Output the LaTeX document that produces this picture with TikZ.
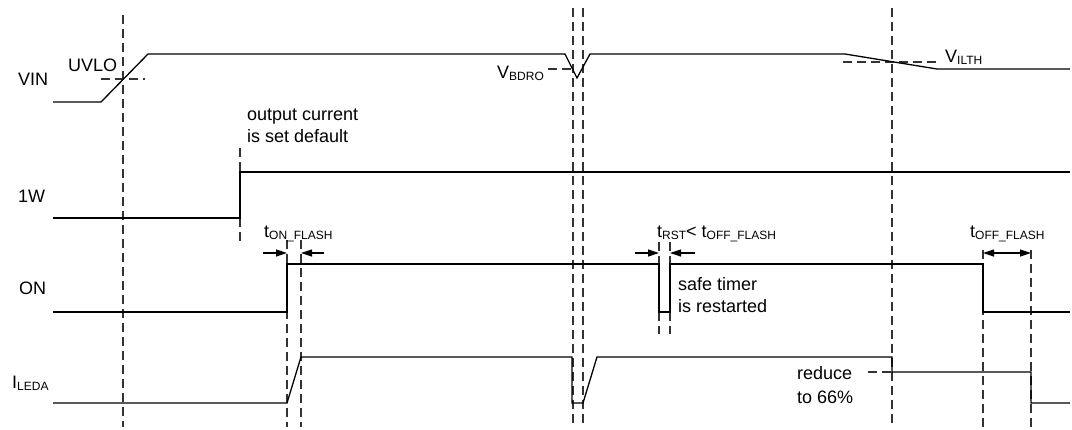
\documentclass[tikz,border=0pt]{standalone}
\usepackage{fontspec}
\setmainfont{Liberation Sans}
\usetikzlibrary{arrows.meta}
\newcommand\sbs[1]{\raisebox{-2.5pt}{\fontsize{12}{12}\selectfont #1}}
\begin{document}
\begin{tikzpicture}[x=1pt,y=-1pt,
  sig/.style={line width=1.3pt, line join=miter},
  guide/.style={line width=1.2pt, dash pattern=on 9pt off 5pt, black!80},
  lbl/.style={font=\fontsize{18}{21}\selectfont, inner sep=0pt, anchor=base west},
  dimarrow/.style={line width=1.2pt, -{Triangle[length=11pt,width=7pt]}},
  dimboth/.style={line width=1.2pt, {Triangle[length=11pt,width=7pt]}-{Triangle[length=11pt,width=7pt]}},
]
\useasboundingbox (0,0) rectangle (1072,429);

% signal names
\node[lbl] (vin) at (18,85) {VIN};
\node[lbl] (w1) at (18,202) {1W};
\node[lbl] (on) at (19,294) {ON};
\node[lbl] (iled) at (12,388) {I\sbs{LEDA}};

% vertical guides
\draw[guide] (123,15) -- (123,427);
\draw[guide] (573,8) -- (573,427);
\draw[guide] (583,8) -- (583,427);
\draw[guide] (892,8) -- (892,427);
\draw[guide] (287,240) -- (287,427);
\draw[guide] (301,240) -- (301,427);
\draw[guide] (983,250) -- (983,427);
\draw[guide] (1031,250) -- (1031,427);
\draw[guide] (659,242) -- (659,264);
\draw[guide] (670,242) -- (670,264);
\draw[guide] (659,312) -- (659,334);
\draw[guide] (670,312) -- (670,334);
\draw[guide] (240,148) -- (240,172);
\draw[guide] (240,218) -- (240,243);

% horizontal threshold guides
\draw[guide] (101,79) -- (145,79);
\draw[guide] (548,69) -- (572,69);
\draw[guide] (843,62) -- (938,62);
\draw[guide] (868,372) -- (892,372);

% signals
\draw[sig] (53,102) -- (101,102) -- (148,54) -- (565,54) -- (577,78) -- (590,54)
  -- (845,54) -- (937,69) -- (1070,69);
\draw[sig] (53,218) -- (240,218) -- (240,172) -- (1070,172);
\draw[sig] (53,312) -- (287,312) -- (287,264) -- (659,264) -- (659,312) -- (670,312)
  -- (670,264) -- (983,264) -- (983,312) -- (1070,312);
\draw[sig] (53,403) -- (287,403) -- (301,357) -- (572,357) -- (572,403) -- (583,403)
  -- (597,357) -- (892,357) -- (892,372) -- (1031,372) -- (1031,403) -- (1070,403);

% dimension arrows
\coordinate (a1s) at (263,253); \coordinate (a1e) at (287,253);
\coordinate (a2s) at (324,253); \coordinate (a2e) at (301,253);
\coordinate (b1s) at (635,253); \coordinate (b1e) at (659,253);
\coordinate (b2s) at (695,253); \coordinate (b2e) at (670,253);
\coordinate (c1) at (983,253); \coordinate (c2) at (1031,253);
\draw[dimarrow] (a1s) -- (a1e);
\draw[dimarrow] (a2s) -- (a2e);
\draw[dimarrow] (b1s) -- (b1e);
\draw[dimarrow] (b2s) -- (b2e);
\draw[dimboth] (c1) -- (c2);

% annotations
\node[lbl] (uvlo) at (68,71) {UVLO};
\node[lbl] (vbdro) at (497,78) {V\sbs{BDRO}};
\node[lbl] (vilth) at (945,62) {V\sbs{ILTH}};
\node[lbl] (oc1) at (247,120) {output current};
\node[lbl] (oc2) at (247,142) {is set default};
\node[lbl] (tonf) at (264,237) {t\sbs{ON\_FLASH}};
\node[lbl] (trst) at (657,237) {t\sbs{RST}< t\sbs{OFF\_FLASH}};
\node[lbl] (tofff) at (970,237) {t\sbs{OFF\_FLASH}};
\node[lbl] (st1) at (678,290) {safe timer};
\node[lbl] (st2) at (678,312) {is restarted};
\node[lbl] (rd1) at (797,379) {reduce};
\node[lbl] (rd2) at (797,403) {to 66\%};
\end{tikzpicture}
\end{document}
